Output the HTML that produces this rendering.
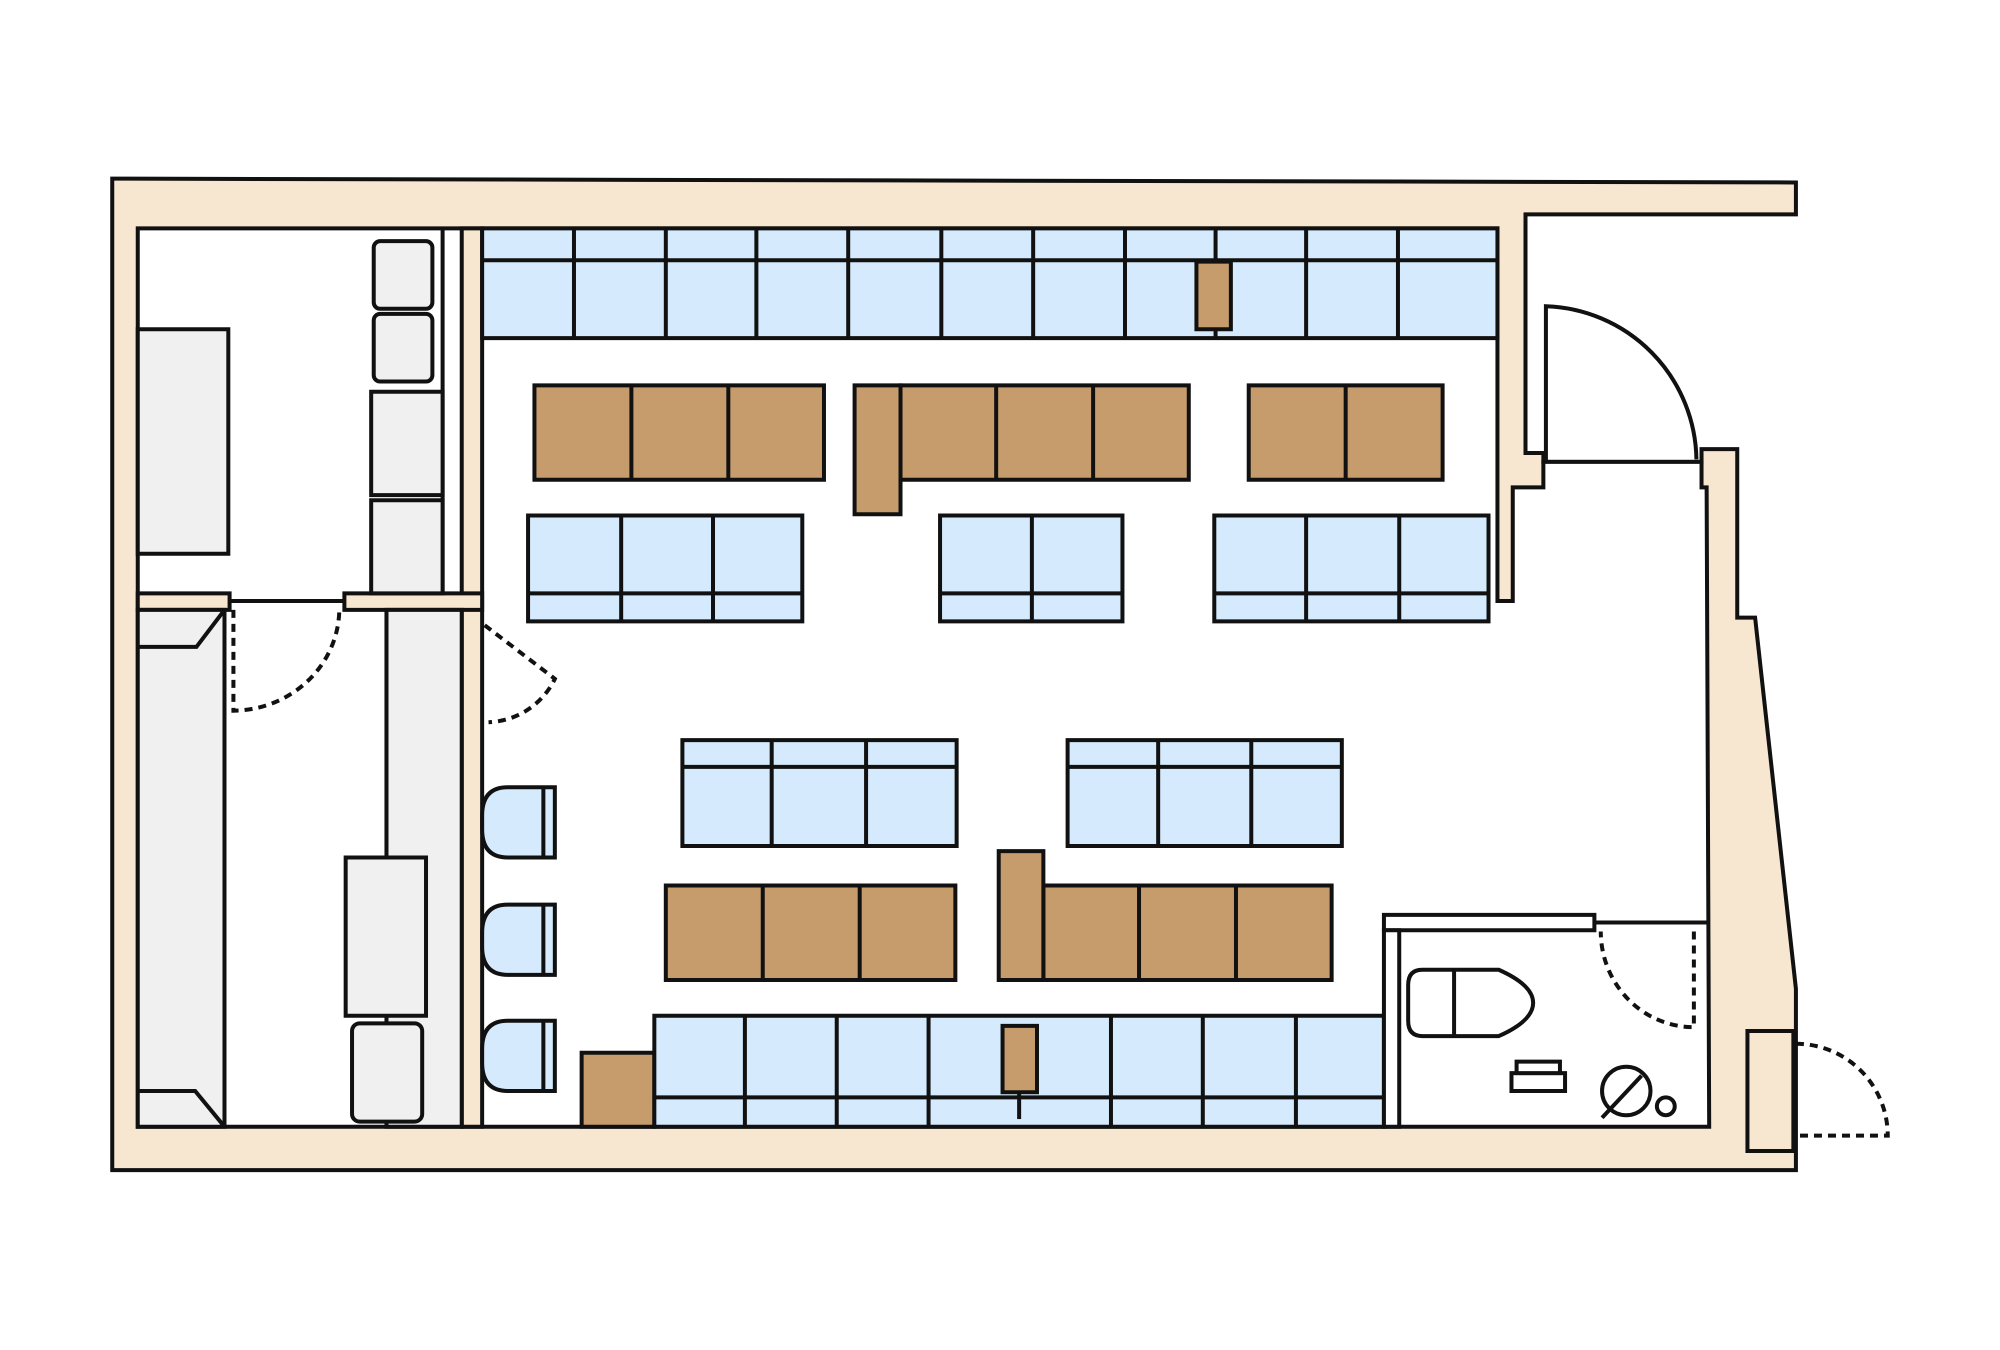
<!DOCTYPE html>
<html><head><style>html,body{margin:0;padding:0;background:#fff}svg{display:block}</style></head><body>
<svg width="2000" height="1350" viewBox="0 0 1568 1058" preserveAspectRatio="none" xmlns="http://www.w3.org/2000/svg">
<g stroke="#111" stroke-width="4" stroke-linejoin="miter">
<style>*{vector-effect:non-scaling-stroke}</style>
<polygon fill="#f7e6d0" points="88,140 1408,143 1408,168 1196,168 1196,355 1210,355 1210,362 1334,362 1334,352 1362,352 1362,484 1376,484 1408,775 1408,917 88,917"/>
<polygon fill="#fff" points="108,179 1174,179 1174,471 1186,471 1186,382 1210,382 1210,362 1334,362 1334,382 1338,382 1340,883 108,883"/>
<path d="M1212,362 L1212,240 A122,122 0 0 1 1330,360" fill="none"/>
<rect x="362" y="179" width="16" height="704" fill="#f7e6d0"/>
<line x1="347" y1="179" x2="347" y2="465"/>
<rect x="108" y="465" width="72" height="13" fill="#f7e6d0"/>
<rect x="270" y="465" width="108" height="13" fill="#f7e6d0"/>
<line x1="180" y1="471" x2="270" y2="471"/>
<rect x="108" y="258" width="71" height="176" fill="#f0f0f0"/>
<rect x="293" y="189" width="46" height="53" rx="5" fill="#f0f0f0"/>
<rect x="293" y="246" width="46" height="53" rx="5" fill="#f0f0f0"/>
<rect x="291" y="307" width="56" height="81" fill="#f0f0f0"/>
<rect x="291" y="392" width="56" height="73" fill="#f0f0f0"/>
<rect x="108" y="478" width="68" height="405" fill="#f0f0f0"/>
<polyline points="108,507 154,507 176,478" fill="none"/>
<polyline points="108,855 153,855 176,883" fill="none"/>
<rect x="303" y="478" width="59" height="405" fill="#f0f0f0"/>
<line x1="303" y1="478" x2="303" y2="883"/>
<rect x="271" y="672" width="63" height="124" fill="#f0f0f0"/>
<rect x="276" y="802" width="55" height="77" rx="6" fill="#f0f0f0"/>
<path d="M183,478 L183,557 A84,80 0 0 0 266,478" fill="none" stroke-dasharray="8,6"/>
<path d="M380,490 L435,532 A60,60 0 0 1 383,566" fill="none" stroke-dasharray="8,6"/>
<g fill="#d5eafc">
<path d="M398,617 H435 V672 H398 Q378,672 378,650 V639 Q378,617 398,617 Z"/>
<path d="M398,709 H435 V764 H398 Q378,764 378,742 V731 Q378,709 398,709 Z"/>
<path d="M398,800 H435 V855 H398 Q378,855 378,833 V822 Q378,800 398,800 Z"/>
</g>
<line x1="426" y1="617" x2="426" y2="672"/><line x1="426" y1="709" x2="426" y2="764"/><line x1="426" y1="800" x2="426" y2="855"/>
<rect x="378" y="179" width="796" height="86" fill="#d5eafc"/>
<line x1="378" y1="204" x2="1174" y2="204"/>
<path d="M450,179V265M522,179V265M593,179V265M665,179V265M738,179V265M810,179V265M882,179V265M953,179V265M1024,179V265M1096,179V265"/>
<rect x="938" y="205" width="27" height="53" fill="#c69c6d"/>
<g fill="#c69c6d">
<rect x="419" y="302" width="227" height="74"/>
<rect x="706" y="302" width="226" height="74"/>
<rect x="670" y="302" width="36" height="101"/>
<rect x="979" y="302" width="152" height="74"/>
<rect x="522" y="694" width="227" height="74"/>
<rect x="818" y="694" width="226" height="74"/>
<rect x="783" y="667" width="35" height="101"/>
<rect x="456" y="825" width="57" height="58"/>
</g>
<path d="M495,302V376M571,302V376M781,302V376M857,302V376M1055,302V376M598,694V768M674,694V768M893,694V768M969,694V768"/>
<g fill="#d5eafc">
<rect x="414" y="404" width="215" height="83"/>
<rect x="737" y="404" width="143" height="83"/>
<rect x="952" y="404" width="215" height="83"/>
<rect x="535" y="580" width="215" height="83"/>
<rect x="837" y="580" width="215" height="83"/>
<rect x="513" y="796" width="572" height="87"/>
</g>
<path d="M414,465H629M737,465H880M952,465H1167M487,404V487M559,404V487M809,404V487M1024,404V487M1097,404V487"/>
<path d="M535,601H750M837,601H1052M605,580V663M679,580V663M908,580V663M981,580V663"/>
<path d="M513,860H1085M584,796V883M656,796V883M728,796V883M871,796V883M943,796V883M1016,796V883"/>
<rect x="786" y="804" width="27" height="52" fill="#c69c6d"/>
<line x1="799" y1="856" x2="799" y2="877"/>
<rect x="1085" y="717" width="165" height="12" fill="#fff"/>
<rect x="1085" y="729" width="12" height="154" fill="#fff"/>
<line x1="1250" y1="723" x2="1340" y2="723"/>
<path d="M1328,730 L1328,805 A73,75 0 0 1 1255,730" fill="none" stroke-dasharray="8,6"/>
<path d="M1115,760 H1175 Q1202,772 1202,786 Q1202,800 1175,812 H1115 Q1104,812 1104,800 V772 Q1104,760 1115,760 Z" fill="#fff"/>
<line x1="1140" y1="760" x2="1140" y2="812"/>
<rect x="1185" y="841" width="42" height="14" fill="#fff"/>
<rect x="1189" y="832" width="34" height="9" fill="#fff"/>
<circle cx="1275" cy="855" r="19" fill="#fff"/>
<line x1="1256" y1="876" x2="1287" y2="843"/>
<circle cx="1306" cy="867" r="7" fill="#fff"/>
<rect x="1370" y="808" width="36" height="94" fill="#f7e6d0"/>
<path d="M1408,818 A72,72 0 0 1 1480,890 L1408,890" fill="none" stroke-dasharray="8,6"/>
</g>
</svg>
</body></html>
